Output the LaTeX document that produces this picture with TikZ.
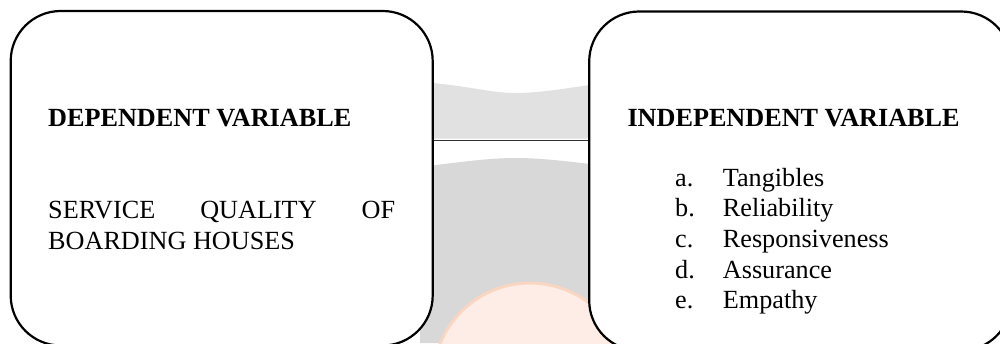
\documentclass[tikz,border=0pt]{standalone}
\usepackage{fontspec}
\setmainfont{Liberation Serif}
\definecolor{bandlight}{HTML}{E1E1E1}
\definecolor{banddark}{HTML}{D8D8D8}
\definecolor{globefill}{HTML}{FDEDE6}
\definecolor{globerim}{HTML}{F9D6C2}
\definecolor{linkgrey}{HTML}{333333}
\tikzset{
  varbox/.style={draw=black, line width=2.2pt, fill=white, rectangle,
    rounded corners=50pt, inner sep=0pt, minimum width=422pt},
  head/.style={anchor=base west, inner sep=0pt, font=\rmfamily\fontsize{26.2}{31}\selectfont\bfseries},
  body/.style={anchor=base west, inner sep=0pt, font=\rmfamily\fontsize{26.2}{31}\selectfont},
  link/.style={draw=linkgrey, line width=1.4pt}
}
\begin{document}
\begin{tikzpicture}[x=1pt,y=-1pt]
  \useasboundingbox (0,0) rectangle (1000,343);
  \clip (0,0) rectangle (1000,343);
  \fill[white] (0,0) rectangle (1000,343);

  % faint backdrop between the two boxes
  \fill[bandlight] (420,82) .. controls (465,85) and (490,93) .. (515,93)
    .. controls (545,93) and (570,87) .. (600,84) -- (600,138.5) -- (420,138.5) -- cycle;
  \fill[banddark] (420,167) .. controls (460,162) and (490,158) .. (515,158)
    .. controls (545,158) and (570,162) .. (600,165) -- (600,343) -- (420,343) -- cycle;
  \fill[globefill] (530,380) circle (97);
  \draw[globerim, line width=3pt] (530,380) circle (97);

  % the two variable boxes
  \node[varbox, minimum height=334.5pt] (depbox) at (221.7,178.25) {};
  \node[varbox, minimum height=339pt] (indbox) at (800.2,181) {};

  % connector between the boxes
  \coordinate (linky) at (0,140.7);
  \draw[link] (depbox.east |- linky) -- (indbox.west |- linky);

  % dependent variable
  \node[head] (dephead) at (48,126.7) {DEPENDENT VARIABLE};
  \node[body] (depline1) at (48,218.3) {\makebox[347pt][s]{SERVICE QUALITY OF}};
  \node[body] (depline2) at (48,249.3) {BOARDING HOUSES};

  % independent variable
  \node[head] (indhead) at (627.3,126.7) {INDEPENDENT VARIABLE};
  \foreach \lab/\txt/\y [count=\i] in {a./Tangibles/186.7, b./Reliability/216.5,
      c./Responsiveness/247.7, d./Assurance/278.3, e./Empathy/308.3}{
    \node[body] (lab\i) at (675,\y) {\lab};
    \node[body] (item\i) at (722.7,\y) {\txt};
  }
\end{tikzpicture}
\end{document}
